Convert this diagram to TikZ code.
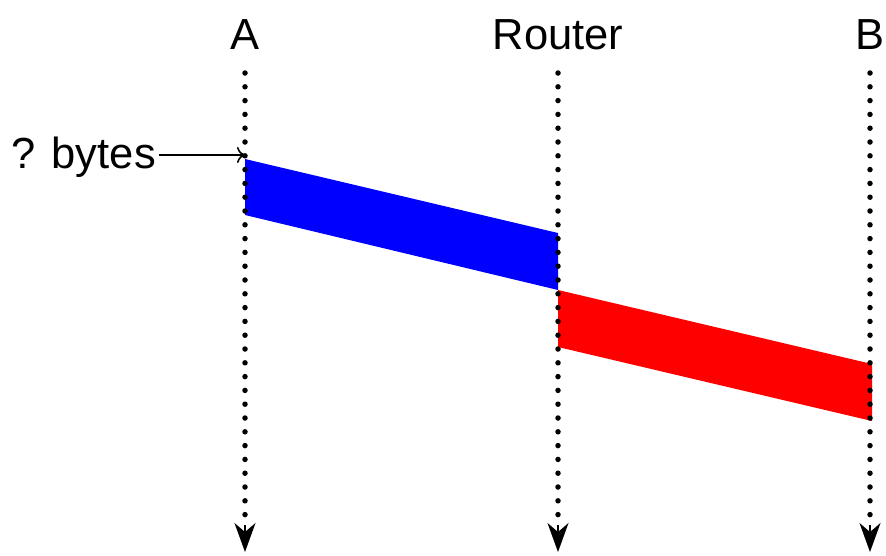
\documentclass[tikz,border=0pt]{standalone}
\usepackage{fontspec}
\setmainfont{Liberation Sans}
\usetikzlibrary{arrows.meta}
\begin{document}
\begin{tikzpicture}[x=1pt,y=-1pt,
  lbl/.style={font=\fontsize{43.5}{50}\selectfont, inner sep=0pt},
  timeline/.style={line width=5.5pt, line cap=round, dash pattern=on 0pt off 13.8pt},
  tip/.style={-{Stealth[length=29pt,width=21pt,inset=9pt]}, line width=1.2pt}]
\useasboundingbox (0,0) rectangle (886,555);

% host labels
\node[lbl] (A) at (245,35) {A};
\node[lbl] (R) at (558,35) {Router};
\node[lbl] (B) at (870,35) {B};

% time lines
\foreach \n/\x in {a/245,r/558,b/870}{
  \coordinate (\n top) at (\x,73);
  \coordinate (\n end) at (\x,525);
  \coordinate (\n tip) at (\x,552);
}

% packet in flight
\fill[blue] (245,159) -- (558,233) -- (558,290) -- (245,215) -- cycle;
\fill[red] (558,290) -- (872,364) -- (872,421) -- (558,347) -- cycle;

\foreach \n in {a,r,b}{
  \draw[timeline] (\n top) -- (\n end);
  \draw[tip] (\n end) -- (\n tip);
}

% size label
\node[lbl, anchor=east] (sz) at (156,157) {? bytes};
\coordinate (szend) at (245,155);
\draw[-{To[length=8pt,width=16pt]}, line width=1.6pt] (sz.east |- szend) ++(3pt,0) -- (szend);
\end{tikzpicture}
\end{document}
